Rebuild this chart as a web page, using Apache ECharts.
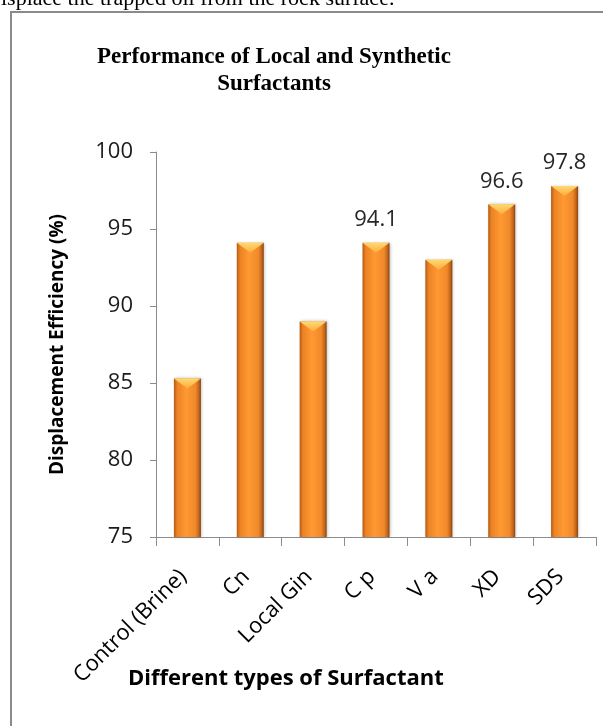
<!DOCTYPE html>
<html>
<head>
<meta charset="utf-8">
<script src="https://cdn.jsdelivr.net/npm/echarts@6/dist/echarts.min.js"></script>
<style>
  html, body { margin: 0; padding: 0; background: #fff; }
  #chart { width: 603px; height: 726px; }
</style>
</head>
<body>
<div id="chart"></div>
<script>
// Surfactant names along the x axis
const categories = ['Control (Brine)', 'Cn', 'Local Gin', 'C p', 'V a', 'XD', 'SDS'];
// Displacement efficiency, %
const efficiency = [85.3, 94.1, 89.0, 94.1, 93.0, 96.6, 97.8];
// Bars that carry a value label
const labelled = [false, false, false, true, false, true, true];
// Value axis ticks
const yTicks = { min: 75, max: 100, step: 5 };

const sansFont = '"Open Sans", Lato, sans-serif';

// Cylinder-like shading across each bar
const barFill = new echarts.graphic.LinearGradient(0, 0, 1, 0, [
  { offset: 0, color: '#b45a14' },
  { offset: 0.12, color: '#ec8224' },
  { offset: 0.45, color: '#ff9932' },
  { offset: 0.8, color: '#f0892a' },
  { offset: 0.92, color: '#c4661b' },
  { offset: 1, color: '#86440f' }
]);

// Light bevel at the top of each bar
const bevelFill = new echarts.graphic.LinearGradient(0, 0, 0, 1, [
  { offset: 0, color: '#ffe27a' },
  { offset: 1, color: '#ffae3e' }
]);

const barData = efficiency.map((v, i) => ({
  value: v,
  label: { show: labelled[i] }
}));

const chart = echarts.init(document.getElementById('chart'), null, { renderer: 'canvas' });

chart.setOption({
  animation: false,
  backgroundColor: '#ffffff',
  title: {
    text: 'Performance of Local and Synthetic\nSurfactants',
    left: 269,
    top: 39,
    textAlign: 'center',
    textStyle: {
      fontFamily: '"Liberation Serif", "Times New Roman", serif',
      fontWeight: 'bold',
      fontSize: 23,
      lineHeight: 27,
      color: '#000'
    }
  },
  graphic: [
    {
      type: 'text',
      left: 1,
      top: -12,
      style: {
        text: 'isplace the trapped oil from the rock surface.',
        font: '22px "Liberation Serif", serif',
        fill: '#000'
      }
    },
    {
      type: 'rect',
      shape: { x: 11, y: 12, width: 640, height: 800 },
      style: { fill: 'none', stroke: '#8a8a8a', lineWidth: 2 },
      silent: true
    },
    {
      type: 'text',
      left: 128,
      top: 668,
      style: {
        text: 'Different types of Surfactant',
        font: 'bold 22px ' + sansFont,
        fill: '#000'
      }
    }
  ],
  grid: {
    left: 156,
    right: 7,
    top: 152,
    bottom: 189,
    containLabel: false
  },
  xAxis: {
    type: 'category',
    data: categories,
    axisLine: { lineStyle: { color: '#8c8c8c', width: 1 } },
    axisTick: { show: true, alignWithLabel: false, length: 9, lineStyle: { color: '#8c8c8c' } },
    axisLabel: {
      rotate: 45,
      margin: 32,
      padding: [0, 6, 0, 0],
      interval: 0,
      fontFamily: sansFont,
      fontSize: 22,
      color: '#000'
    }
  },
  yAxis: {
    type: 'value',
    min: yTicks.min,
    max: yTicks.max,
    interval: yTicks.step,
    name: 'Displacement Efficiency (%)',
    nameLocation: 'middle',
    nameGap: 89,
    nameRotate: 90,
    nameTextStyle: {
      fontFamily: sansFont,
      fontWeight: 'bold',
      fontSize: 19,
      color: '#000'
    },
    axisLine: { show: true, lineStyle: { color: '#8c8c8c', width: 1 } },
    axisTick: { show: true, length: 6, lineStyle: { color: '#8c8c8c' } },
    splitLine: { show: false },
    axisLabel: {
      margin: 23,
      fontFamily: sansFont,
      fontSize: 22,
      color: '#1a1a1a'
    }
  },
  series: [
    {
      type: 'bar',
      data: barData,
      barWidth: 27,
      barGap: '-100%',
      itemStyle: {
        color: barFill,
        shadowColor: 'rgba(0,0,0,0.25)',
        shadowBlur: 3,
        shadowOffsetX: 1
      },
      label: {
        position: 'top',
        distance: 12,
        fontFamily: sansFont,
        fontSize: 22,
        color: '#262626',
        formatter: p => p.value.toFixed(1)
      },
      z: 2
    },
    {
      type: 'pictorialBar',
      data: efficiency,
      symbol: 'path://M0,0 L10,0 L5,3.2 Z',
      symbolSize: [27, 10],
      symbolPosition: 'end',
      symbolOffset: [0, 0],
      symbolKeepAspect: false,
      barGap: '-100%',
      itemStyle: { color: bevelFill, opacity: 0.9 },
      silent: true,
      z: 3
    }
  ]
});
</script>
</body>
</html>
